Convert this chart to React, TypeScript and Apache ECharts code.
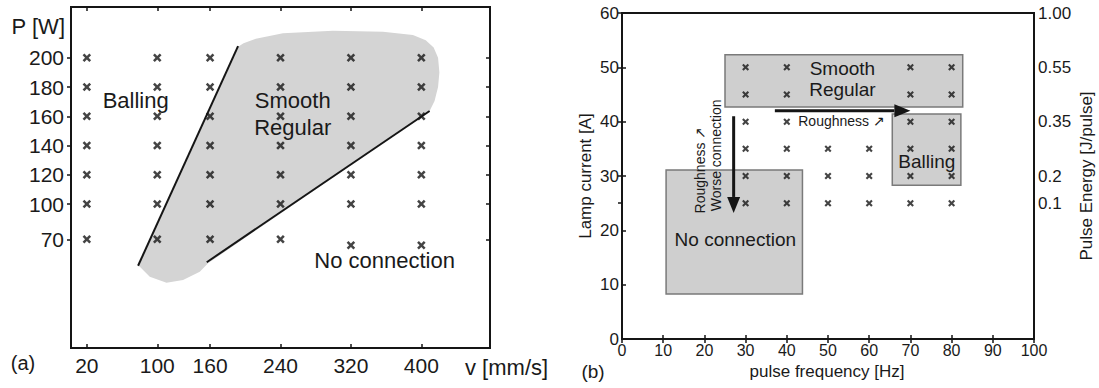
import React, { useEffect, useRef } from "react";
import * as echarts from "echarts";

const FONT = "'Liberation Sans', Arial, Helvetica, sans-serif";
const INK = "#151515";

// ---------- Panel (a) ----------
const speedTicks = [20, 100, 160, 240, 320, 400];
const powerTicks = [70, 100, 120, 140, 160, 180, 200];
const trialsA: [number, number][] = [
  [20, 200], [100, 200], [160, 200], [240, 200], [320, 200], [400, 200],
  [20, 180], [100, 180], [160, 180], [240, 180], [320, 180], [400, 180],
  [20, 160], [100, 160], [160, 160], [240, 160], [320, 160], [400, 160],
  [20, 140], [100, 140], [160, 140], [240, 140], [320, 140], [400, 140],
  [20, 120], [100, 120], [160, 120], [240, 120], [320, 120], [400, 120],
  [20, 100], [100, 100], [160, 100], [240, 100], [320, 100], [400, 100],
  [20, 70], [100, 70], [160, 70], [240, 70], [320, 65], [400, 65],
];
// outline of the "smooth regular" window (v, P)
const smoothRegionV = [191.8, 78.2, 80.2, 91.5, 110.5, 129.3, 148.3, 157.7, 409.4, 415.0, 419.0, 420.5, 419.0, 414.0, 405.0, 390.4, 356.4, 299.6, 242.8, 212.0, 198.0];
const smoothRegionP = [207.5, 47.5, 46.6, 38.2, 33.0, 35.3, 42.4, 49.6, 163.6, 170.5, 180.0, 190.0, 200.0, 207.0, 212.0, 215.5, 217.8, 218.5, 216.7, 213.0, 210.0];
// boundary lines
const boundaryV = [[78.2, 191.8], [156.2, 409.4]];
const boundaryP = [[47.5, 208], [50.5, 163.6]];
// region labels
const labelA_text = ["Balling", "Smooth", "Regular", "No connection"];
const labelA_v = [75.5, 253.9, 253.9, 358.3];
const labelA_P = [171, 171.1, 152.6, 52.3];

// the P axis of (a) is stretched between its ticks; below 100 W the step is shorter
const pScale = (p: number) => (p >= 100 ? p : 100 - (100 - p) * 0.8035);

// ---------- Panel (b) ----------
const trialsB: [number, number][] = [
  [30, 50], [40, 50], [70, 50], [80, 50],
  [30, 45], [40, 45], [70, 45], [80, 45],
  [30, 40], [40, 40], [70, 40], [80, 40],
  [30, 35], [40, 35], [50, 35], [60, 35], [70, 35], [80, 35],
  [30, 30], [40, 30], [50, 30], [60, 30], [70, 30], [80, 30],
  [30, 25], [40, 25], [50, 25], [60, 25], [70, 25], [80, 25],
];
const energyTickCurrent = [25, 30, 40, 50, 60];
const energyTickLabels = ["0.1", "0.2", "0.35", "0.55", "1.00"];
const regionB_f0 = [25, 65.6, 10.7];
const regionB_f1 = [82.7, 82.25, 43.8];
const regionB_i0 = [42.7, 28.3, 8.3];
const regionB_i1 = [52.3, 41.4, 31.1];
const labelB_text = ["Smooth", "Regular", "Balling", "No connection", "Roughness \u2197"];
const labelB_f = [53.5, 53.5, 74, 27.5, 53.3];
const labelB_i = [49.8, 45.9, 32.6, 18.4, 40.2];
const labelB_big = [true, true, true, true, false];
const vLabelB_text = ["Roughness \u2197", "Worse connection"];
const vLabelB_f = [19.0, 22.7];
const vLabelB_i = [31.1, 33.8];
const arrowB_from: [number, number][] = [[37.1, 42], [27.1, 41]];
const arrowB_to: [number, number][] = [[70, 42], [27.1, 23.2]];

const CROSS = "path://M0,2.1L2.1,0L5,2.9L7.9,0L10,2.1L7.1,5L10,7.9L7.9,10L5,7.1L2.1,10L0,7.9L2.9,5Z";

export default function App() {
  const ref = useRef<HTMLDivElement>(null);
  useEffect(() => {
    if (!ref.current) return;
    const chart = echarts.init(ref.current, undefined, { renderer: "svg" });
    const tick = { inside: true, length: 4, lineStyle: { color: INK, width: 1.5 } };
    const txt = (text: string, x: number, y: number, size: number, align = "center", rotation = 0) => ({
      type: "text",
      x,
      y,
      rotation,
      style: {
        text,
        font: `${size}px ${FONT}`,
        fill: "#1a1a1a",
        align,
        textAlign: align,
        verticalAlign: "middle",
        textVerticalAlign: "middle",
      },
    });

    const option: any = {
      animation: false,
      backgroundColor: "#fff",
      grid: [
        { left: 71, top: 7, width: 419, height: 341, show: true, borderColor: INK, borderWidth: 2, backgroundColor: "transparent" },
        { left: 622, top: 13, width: 412, height: 326, show: true, borderColor: INK, borderWidth: 2, backgroundColor: "transparent" },
      ],
      xAxis: [
        {
          gridIndex: 0, type: "value", min: 2, max: 478, position: "bottom",
          axisLine: { show: false }, splitLine: { show: false },
          axisTick: { ...tick, customValues: speedTicks },
          axisLabel: { customValues: speedTicks, fontSize: 21, color: "#1a1a1a", margin: 7, fontFamily: FONT },
        },
        {
          gridIndex: 0, type: "value", min: 2, max: 478, position: "top",
          axisLine: { show: false }, splitLine: { show: false },
          axisTick: { ...tick, customValues: speedTicks }, axisLabel: { show: false },
        },
        {
          gridIndex: 1, type: "value", min: 0, max: 100, interval: 10, position: "bottom",
          axisLine: { show: false }, splitLine: { show: false }, axisTick: tick,
          axisLabel: { fontSize: 16, color: "#1a1a1a", margin: 3, fontFamily: FONT },
        },
        {
          gridIndex: 1, type: "value", min: 0, max: 100, interval: 10, position: "top",
          axisLine: { show: false }, splitLine: { show: false }, axisTick: tick, axisLabel: { show: false },
        },
      ],
      yAxis: [
        {
          gridIndex: 0, type: "value", min: 1.6, max: 234.7, position: "left",
          axisLine: { show: false }, splitLine: { show: false },
          axisTick: { inside: false, length: 4, lineStyle: { color: INK, width: 1.5 }, customValues: powerTicks.map(pScale) },
          axisLabel: {
            customValues: powerTicks.map(pScale), fontSize: 21, color: "#1a1a1a", margin: 7, fontFamily: FONT,
            formatter: (v: number) => {
              const p = powerTicks.find((q) => Math.abs(pScale(q) - v) < 1e-6);
              return p === undefined ? "" : String(p);
            },
          },
        },
        {
          gridIndex: 0, type: "value", min: 1.6, max: 234.7, position: "right",
          axisLine: { show: false }, splitLine: { show: false },
          axisTick: { ...tick, customValues: powerTicks.map(pScale) }, axisLabel: { show: false },
        },
        {
          gridIndex: 1, type: "value", min: 0, max: 60, interval: 10, position: "left",
          axisLine: { show: false }, splitLine: { show: false }, axisTick: tick,
          axisLabel: { fontSize: 17, color: "#1a1a1a", margin: 3, fontFamily: FONT },
          name: "Lamp current [A]", nameLocation: "middle", nameGap: 28,
          nameTextStyle: { fontSize: 17, color: "#1a1a1a", fontFamily: FONT },
        },
        {
          gridIndex: 1, type: "value", min: 0, max: 60, position: "right",
          axisLine: { show: false }, splitLine: { show: false },
          axisTick: { ...tick, customValues: energyTickCurrent },
          axisLabel: {
            customValues: energyTickCurrent, fontSize: 17, color: "#1a1a1a", margin: 4, fontFamily: FONT,
            formatter: (v: number) => {
              const i = energyTickCurrent.indexOf(v);
              return i < 0 ? "" : energyTickLabels[i];
            },
          },
          name: "Pulse Energy [J/pulse]", nameLocation: "middle", nameRotate: 90, nameGap: 44,
          nameTextStyle: { fontSize: 17, color: "#1a1a1a", fontFamily: FONT },
        },
      ],
      series: [
        // (a) smooth regular window
        {
          type: "custom", xAxisIndex: 0, yAxisIndex: 0, silent: true, z: 1, data: [[0, 0]],
          renderItem: (_p: any, api: any) => ({
            type: "polygon",
            shape: { points: smoothRegionV.map((v, i) => api.coord([v, pScale(smoothRegionP[i])])) },
            style: { fill: "#d4d4d4" },
          }),
        },
        // (a) boundary lines
        {
          type: "custom", xAxisIndex: 0, yAxisIndex: 0, silent: true, z: 3, data: boundaryV.map((_, i) => [i, 0]),
          renderItem: (params: any, api: any) => {
            const i = params.dataIndex;
            const a = api.coord([boundaryV[i][0], pScale(boundaryP[i][0])]);
            const b = api.coord([boundaryV[i][1], pScale(boundaryP[i][1])]);
            return { type: "line", shape: { x1: a[0], y1: a[1], x2: b[0], y2: b[1] }, style: { stroke: INK, lineWidth: 2 } };
          },
        },
        // (a) trials
        {
          type: "scatter", xAxisIndex: 0, yAxisIndex: 0, z: 4, symbol: CROSS, symbolSize: 8.5,
          itemStyle: { color: INK }, data: trialsA.map(([v, p]) => [v, pScale(p)]),
        },
        // (a) labels
        {
          type: "custom", xAxisIndex: 0, yAxisIndex: 0, silent: true, z: 5,
          data: labelA_v.map((v, i) => [v, pScale(labelA_P[i])]),
          renderItem: (params: any, api: any) => {
            const c = api.coord([api.value(0), api.value(1)]);
            return txt(labelA_text[params.dataIndex], c[0], c[1], 22);
          },
        },
        // (b) regions
        {
          type: "custom", xAxisIndex: 2, yAxisIndex: 2, silent: true, z: 1,
          data: regionB_f0.map((f, i) => [f, regionB_i0[i]]),
          renderItem: (params: any, api: any) => {
            const i = params.dataIndex;
            const a = api.coord([regionB_f0[i], regionB_i1[i]]);
            const b = api.coord([regionB_f1[i], regionB_i0[i]]);
            return {
              type: "rect",
              shape: { x: a[0], y: a[1], width: b[0] - a[0], height: b[1] - a[1] },
              style: { fill: "#cfcfcf", stroke: "#7a7a7a", lineWidth: 1.5 },
            };
          },
        },
        // (b) trials
        {
          type: "scatter", xAxisIndex: 2, yAxisIndex: 2, z: 4, symbol: CROSS, symbolSize: 7,
          itemStyle: { color: INK }, data: trialsB,
        },
        // (b) arrows
        {
          type: "custom", xAxisIndex: 2, yAxisIndex: 2, silent: true, z: 5,
          data: arrowB_from.map((f) => f),
          renderItem: (params: any, api: any) => {
            const i = params.dataIndex;
            const a = api.coord(arrowB_from[i]);
            const b = api.coord(arrowB_to[i]);
            const dx = b[0] - a[0];
            const dy = b[1] - a[1];
            const len = Math.hypot(dx, dy);
            const ux = dx / len, uy = dy / len;
            const hl = 16, hw = 6.5;
            const bx = b[0] - ux * hl, by = b[1] - uy * hl;
            return {
              type: "group",
              children: [
                { type: "line", shape: { x1: a[0], y1: a[1], x2: bx, y2: by }, style: { stroke: INK, lineWidth: 3 } },
                {
                  type: "polygon",
                  shape: { points: [[b[0], b[1]], [bx - uy * hw, by + ux * hw], [bx + uy * hw, by - ux * hw]] },
                  style: { fill: INK },
                },
              ],
            };
          },
        },
        // (b) labels
        {
          type: "custom", xAxisIndex: 2, yAxisIndex: 2, silent: true, z: 6,
          data: labelB_f.map((f, i) => [f, labelB_i[i]]),
          renderItem: (params: any, api: any) => {
            const i = params.dataIndex;
            const c = api.coord([labelB_f[i], labelB_i[i]]);
            return txt(labelB_text[i], c[0], c[1], labelB_big[i] ? 19 : 14);
          },
        },
        {
          type: "custom", xAxisIndex: 2, yAxisIndex: 2, silent: true, z: 6,
          data: vLabelB_f.map((f, i) => [f, vLabelB_i[i]]),
          renderItem: (params: any, api: any) => {
            const i = params.dataIndex;
            const c = api.coord([vLabelB_f[i], vLabelB_i[i]]);
            return txt(vLabelB_text[i], c[0], c[1], 14, "center", Math.PI / 2);
          },
        },
      ],
      graphic: [
        txt("P [W]", 65, 26, 22, "right"),
        txt("(a)", 23, 363, 20),
        txt("v [mm/s]", 465, 367, 22, "left"),
        txt("(b)", 593, 371, 19),
        txt("pulse frequency [Hz]", 827, 371, 17),
      ],
    };
    chart.setOption(option);
    return () => chart.dispose();
  }, []);
  return (
    <div
      ref={ref}
      style={{ position: "fixed", left: 0, top: 0, width: 1099, height: 388, background: "#fff" }}
    />
  );
}
